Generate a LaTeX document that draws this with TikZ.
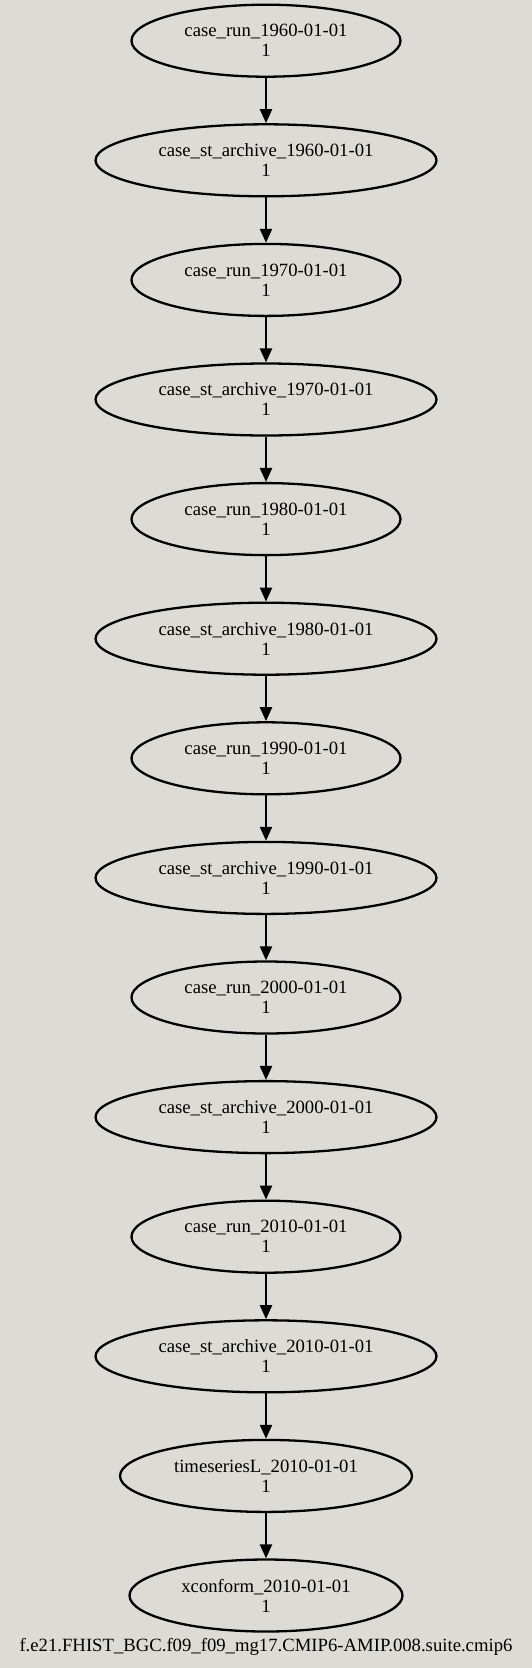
\documentclass[tikz,border=0pt]{standalone}
\usepackage{fontspec}
\setmainfont{Liberation Serif}
\usetikzlibrary{shapes.geometric,arrows.meta}

\definecolor{suitebg}{RGB}{220,219,214}

\newcommand{\suiteNodeHeight}{72pt}
\newcommand{\suiteRunWidth}{269pt}
\newcommand{\suiteArchiveWidth}{341pt}
\newcommand{\suiteTimeseriesWidth}{292pt}
\newcommand{\suiteConformWidth}{273pt}
\newcommand{\suiteVGap}{119.6pt}
\tikzset{
  st base/.style={font=\fontsize{18.7}{20}\selectfont},
  st arrow/.style={line width=2.3pt, -{Triangle[length=14pt,width=12pt]}},
  st task/.style={draw, ellipse, line width=2.3pt, inner sep=0pt,
    minimum height=\suiteNodeHeight, align=center},
  st run/.style={st task, minimum width=\suiteRunWidth},
  st archive/.style={st task, minimum width=\suiteArchiveWidth},
  st timeseries/.style={st task, minimum width=\suiteTimeseriesWidth},
  st conform/.style={st task, minimum width=\suiteConformWidth},
}

\begin{document}
\begin{tikzpicture}[
    x=1pt, y=1pt,
    st base,
    node distance=\suiteVGap,
    run/.style={st run},
    archive/.style={st archive},
    timeseries/.style={st timeseries},
    conform/.style={st conform},
    arrow/.style={st arrow}
]
\fill [suitebg] (0,0) rectangle (532,-1668);

\node (run1960) [run] at (266,-40.7) {case\_run\_1960-01-01\\1};
\node (arc1960) [archive, below of=run1960] {case\_st\_archive\_1960-01-01\\1};
\node (run1970) [run, below of=arc1960] {case\_run\_1970-01-01\\1};
\node (arc1970) [archive, below of=run1970] {case\_st\_archive\_1970-01-01\\1};
\node (run1980) [run, below of=arc1970] {case\_run\_1980-01-01\\1};
\node (arc1980) [archive, below of=run1980] {case\_st\_archive\_1980-01-01\\1};
\node (run1990) [run, below of=arc1980] {case\_run\_1990-01-01\\1};
\node (arc1990) [archive, below of=run1990] {case\_st\_archive\_1990-01-01\\1};
\node (run2000) [run, below of=arc1990] {case\_run\_2000-01-01\\1};
\node (arc2000) [archive, below of=run2000] {case\_st\_archive\_2000-01-01\\1};
\node (run2010) [run, below of=arc2000] {case\_run\_2010-01-01\\1};
\node (arc2010) [archive, below of=run2010] {case\_st\_archive\_2010-01-01\\1};
\node (ts2010)  [timeseries, below of=arc2010] {timeseriesL\_2010-01-01\\1};
\node (xc2010)  [conform, below of=ts2010] {xconform\_2010-01-01\\1};

\node (suite) at (266,-1647)
  {f.e21.FHIST\_BGC.f09\_f09\_mg17.CMIP6-AMIP.008.suite.cmip6};

\draw [arrow] (run1960) -- (arc1960);
\draw [arrow] (arc1960) -- (run1970);
\draw [arrow] (run1970) -- (arc1970);
\draw [arrow] (arc1970) -- (run1980);
\draw [arrow] (run1980) -- (arc1980);
\draw [arrow] (arc1980) -- (run1990);
\draw [arrow] (run1990) -- (arc1990);
\draw [arrow] (arc1990) -- (run2000);
\draw [arrow] (run2000) -- (arc2000);
\draw [arrow] (arc2000) -- (run2010);
\draw [arrow] (run2010) -- (arc2010);
\draw [arrow] (arc2010) -- (ts2010);
\draw [arrow] (ts2010)  -- (xc2010);
\end{tikzpicture}
\end{document}
